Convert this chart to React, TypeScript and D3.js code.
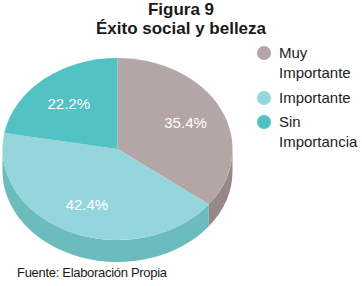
import React from "react";
import * as d3 from "d3";

const categories = ["Muy Importante", "Importante", "Sin Importancia"];
const values = [35.4, 42.4, 22.2];
const legendLines = [["Muy", "Importante"], ["Importante"], ["Sin", "Importancia"]];
const topColors = ["#b4a5a7", "#94d6dc", "#52c2c5"];
const sideColors = ["#978789", "#6dbcbd", "#3fa8ab"];

const W = 362, H = 286;
const cx = 117.5, cy = 149, rx = 115, ry = 91, depth = 22;

function pt(a: number, dy = 0): [number, number] {
  return [cx + rx * Math.sin(a), cy - ry * Math.cos(a) + dy];
}

export default function App() {
  const pie = d3.pie<number>().sort(null).startAngle(0).endAngle(2 * Math.PI);
  const slices = pie(values);
  const arc = d3.arc<d3.PieArcDatum<number>>().innerRadius(0).outerRadius(rx);
  const labelArc = d3.arc<d3.PieArcDatum<number>>().innerRadius(rx * 0.66).outerRadius(rx * 0.66);
  const fmt = d3.format(".1f");

  const sides = slices.map((s, i) => {
    const a0 = Math.max(s.startAngle, Math.PI / 2);
    const a1 = Math.min(s.endAngle, (3 * Math.PI) / 2);
    if (a1 <= a0) return null;
    const p0 = pt(a0), p1 = pt(a1), q1 = pt(a1, depth), q0 = pt(a0, depth);
    const d = `M${p0[0]},${p0[1]} A${rx},${ry} 0 0 1 ${p1[0]},${p1[1]} L${q1[0]},${q1[1]} A${rx},${ry} 0 0 0 ${q0[0]},${q0[1]} Z`;
    return <path key={"s" + i} d={d} fill={sideColors[i]} />;
  });

  const legendY = [53, 98, 122];

  return (
    <svg width={W} height={H} style={{ position: "fixed", left: 0, top: 0, background: "#fff" }}
      fontFamily="'Liberation Sans', Arial, sans-serif">
      <text x={181} y={15} textAnchor="middle" fontWeight="bold" fontSize={17} fill="#1a1a1a">Figura 9</text>
      <text x={181} y={34} textAnchor="middle" fontWeight="bold" fontSize={17} fill="#1a1a1a">Éxito social y belleza</text>
      {sides}
      <g transform={`translate(${cx},${cy}) scale(1,${ry / rx})`}>
        {slices.map((s, i) => (
          <path key={"t" + i} d={arc(s) || ""} fill={topColors[i]} />
        ))}
      </g>
      {slices.map((s, i) => {
        const [lx, ly] = labelArc.centroid(s);
        return (
          <text key={"l" + i} x={cx + lx} y={cy + ly * (ry / rx) + 6} textAnchor="middle" fontSize={15} fill="#fff">
            {fmt(values[i])}%
          </text>
        );
      })}
      {categories.map((c, i) => (
        <g key={"g" + i}>
          <circle cx={264} cy={legendY[i]} r={7} fill={topColors[i]} />
          {legendLines[i].map((ln, j) => (
            <text key={j} x={279} y={legendY[i] + 5 + j * 20} fontSize={15} fill="#222">{ln}</text>
          ))}
        </g>
      ))}
      <text x={17} y={277} fontSize={13} fill="#1a1a1a" textLength={150}>Fuente: Elaboración Propia</text>
    </svg>
  );
}
